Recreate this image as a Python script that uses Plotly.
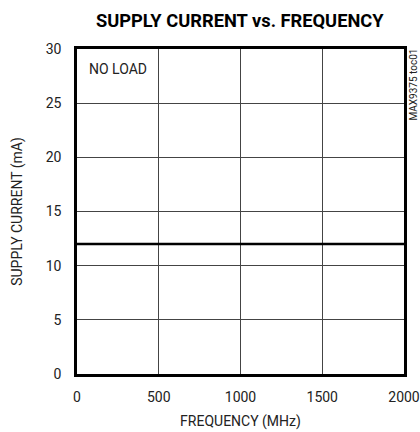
import plotly.graph_objects as go

freq_mhz = [0, 100, 200, 300, 400, 500, 600, 700, 800, 900, 1000, 1100, 1200, 1300, 1400, 1500, 1600, 1680, 1690, 1700, 1800, 1900, 2000]
supply_ma = [12.0, 12.0, 12.0, 12.0, 12.0, 12.0, 12.0, 12.0, 12.0, 12.0, 12.0, 12.0, 12.0, 12.0, 12.0, 12.0, 12.0, 12.0, 12.05, 12.0, 12.0, 12.0, 12.0]
x_ticks = [0, 500, 1000, 1500, 2000]
y_ticks = [0, 5, 10, 15, 20, 25, 30]

tfont = "Roboto, Liberation Sans, sans-serif"

fig = go.Figure()
fig.add_trace(go.Scatter(x=freq_mhz, y=supply_ma, mode="lines",
                         line=dict(color="black", width=2.5), showlegend=False))

fig.update_layout(
    width=420, height=432,
    margin=dict(l=77, r=16, t=49, b=58),
    paper_bgcolor="white", plot_bgcolor="white",
    title=dict(text="<b>SUPPLY CURRENT vs. FREQUENCY</b>", x=0.571, xanchor="center",
               y=0.952, yanchor="middle",
               font=dict(family=tfont, size=18.3, color="black")),
    font=dict(family=tfont, size=14, color="#222"),
)
fig.update_xaxes(range=[0, 2000], tickvals=x_ticks, showgrid=True, gridcolor="#444", gridwidth=1,
                 showline=True, linecolor="black", linewidth=2.5, mirror=True, ticks="",
                 zeroline=False, automargin=False, ticklabelstandoff=8,
                 title=dict(text="FREQUENCY (MHz)", standoff=13, font=dict(family=tfont, size=14)),
                 tickfont=dict(family=tfont, size=14))
fig.update_yaxes(range=[0, 30], tickvals=y_ticks, showgrid=True, gridcolor="#444", gridwidth=1,
                 showline=True, linecolor="black", linewidth=2.5, mirror=True, ticks="",
                 zeroline=False, automargin=False, ticklabelstandoff=10,
                 title=dict(text="SUPPLY CURRENT (mA)", standoff=20, font=dict(family=tfont, size=14)),
                 tickfont=dict(family=tfont, size=14))

fig.add_annotation(text="NO LOAD", xref="paper", yref="paper", x=0.03, y=0.97,
                   xanchor="left", yanchor="top", showarrow=False,
                   font=dict(family=tfont, size=14, color="#222"))
fig.add_annotation(text="MAX9375 toc01", xref="paper", yref="paper", x=1.0, y=1.0,
                   xanchor="left", yanchor="top", xshift=1, yshift=2, showarrow=False, textangle=-90,
                   font=dict(family=tfont, size=10, color="#222"))

fig.write_html("out.html", config={"displayModeBar": False},
               post_script="document.body.style.margin='0';document.body.style.padding='0';")
